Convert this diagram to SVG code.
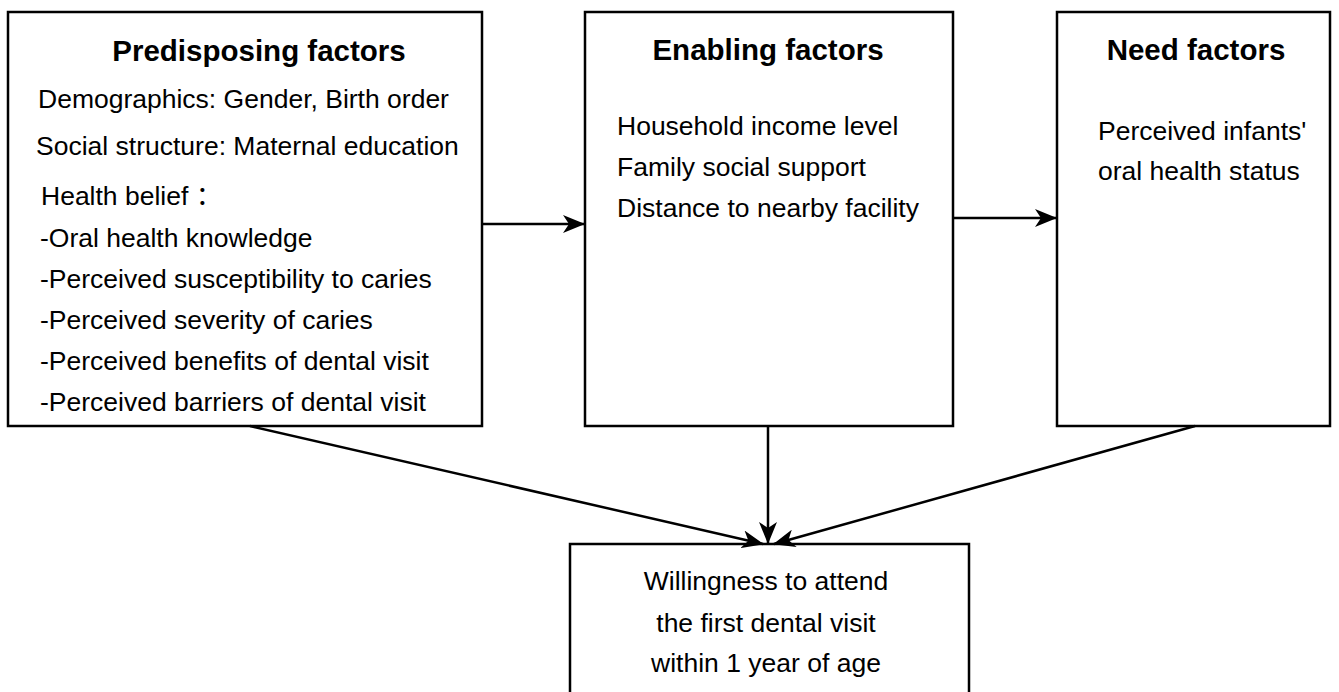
<svg xmlns="http://www.w3.org/2000/svg" width="1339" height="692" viewBox="0 0 1339 692">
<defs>
<style>
.box{fill:#fff;stroke:#000;stroke-width:2.5}
.t{font-family:"Liberation Sans",Arial,"Noto Sans CJK SC",sans-serif;font-size:26.5px;fill:#000}
.h{font-family:"Liberation Sans",Arial,sans-serif;font-size:29.5px;font-weight:bold;fill:#000}
.c{stroke:#000;stroke-width:2.5;fill:none}
</style>
<marker id="ah" viewBox="0 0 22 18" refX="21" refY="9" markerWidth="22" markerHeight="18" markerUnits="userSpaceOnUse" orient="auto">
<path d="M0,0 L22,9 L0,18 L6,9 Z" fill="#000"/>
</marker>
</defs>
<rect width="1339" height="692" fill="#fff"/>
<g id="predisposing">
<rect class="box" x="8" y="12" width="474" height="414"/>
<text class="h" x="259" y="61" text-anchor="middle">Predisposing factors</text>
<text class="t" x="38" y="108">Demographics: Gender, Birth order</text>
<text class="t" x="36" y="155">Social structure: Maternal education</text>
<text class="t" x="41" y="205">Health belief ：</text>
<text class="t" x="40" y="247">-Oral health knowledge</text>
<text class="t" x="40" y="288">-Perceived susceptibility to caries</text>
<text class="t" x="40" y="329">-Perceived severity of caries</text>
<text class="t" x="40" y="370">-Perceived benefits of dental visit</text>
<text class="t" x="40" y="411">-Perceived barriers of dental visit</text>
</g>
<g id="enabling">
<rect class="box" x="585" y="12" width="368" height="414"/>
<text class="h" x="768" y="60" text-anchor="middle">Enabling factors</text>
<text class="t" x="617" y="135">Household income level</text>
<text class="t" x="617" y="176">Family social support</text>
<text class="t" x="617" y="217">Distance to nearby facility</text>
</g>
<g id="need">
<rect class="box" x="1057" y="12" width="273" height="414"/>
<text class="h" x="1196" y="60" text-anchor="middle">Need factors</text>
<text class="t" x="1098" y="140">Perceived infants'</text>
<text class="t" x="1098" y="180">oral health status</text>
</g>
<g id="outcome">
<rect class="box" x="570" y="544" width="399" height="160"/>
<text class="t" x="766" y="590" text-anchor="middle">Willingness to attend</text>
<text class="t" x="766" y="632" text-anchor="middle">the first dental visit</text>
<text class="t" x="766" y="672" text-anchor="middle">within 1 year of age</text>
</g>
<g id="connectors">
<line class="c" x1="482" y1="224" x2="584" y2="224" marker-end="url(#ah)"/>
<line class="c" x1="953" y1="218" x2="1056" y2="218" marker-end="url(#ah)"/>
<line class="c" x1="768" y1="426" x2="768" y2="543" marker-end="url(#ah)"/>
<line class="c" x1="250" y1="426" x2="763" y2="544" marker-end="url(#ah)"/>
<line class="c" x1="1195" y1="426" x2="774" y2="544" marker-end="url(#ah)"/>
</g>
</svg>
